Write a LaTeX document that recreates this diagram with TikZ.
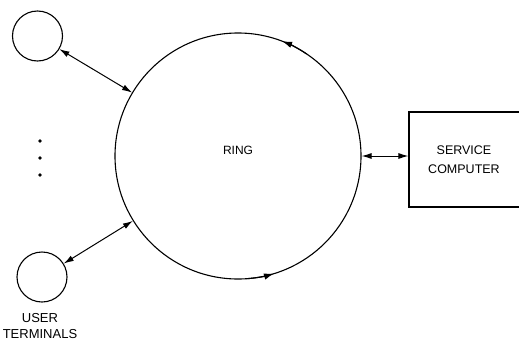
\documentclass[tikz,border=0pt]{standalone}
\usepackage{fontspec}
\setmainfont{Liberation Sans}
\usetikzlibrary{arrows.meta,calc}
\begin{document}
\begin{tikzpicture}[x=1pt,y=-1pt,line width=1.1pt,
  tip/.style={-{Latex[length=10pt,width=6.5pt]}},
  biarrow/.style={{Latex[length=10pt,width=6pt]}-{Latex[length=10pt,width=6pt]}, line width=1pt},
  term/.style={circle,draw,line width=1.1pt,minimum size=50pt,inner sep=0pt},
  lbl/.style={font=\fontsize{13}{15.5}\selectfont,align=center,inner sep=0pt}]
\clip (0,0) rectangle (519,343);
\fill[white] (0,0) rectangle (519,343);
\node[circle,draw,line width=1.1pt,minimum size=246pt,inner sep=0pt,
      font=\fontsize{12}{14}\selectfont] (ring) at (238,156) {\raisebox{0pt}[0pt][0pt]{\raisebox{2pt}{RING}}};
\node[term] (t1) at (37.5,36) {};
\node[term] (t2) at (42,277) {};
\node[draw,line width=1.1pt,minimum width=116pt,minimum height=95pt,inner sep=0pt,
      align=center,font=\fontsize{12.5}{19}\selectfont] (box) at (467,159.5)
      {\hspace*{-6pt}SERVICE\\\hspace*{-6pt}COMPUTER};
\node[lbl,anchor=north] (ut) at (40,313) {USER\\TERMINALS};
\foreach \yy [count=\i] in {141,158,175}
  \fill (40,\yy) circle (1.8pt) coordinate (d\i);
\draw[biarrow] (t1) -- (ring);
\draw[biarrow] (t2) -- (ring);
\draw[biarrow] (ring.east) -- (ring.east -| box.west);
\draw[tip] (ring.center) ++(-56:123) arc[start angle=-56,end angle=-69,radius=123];
\draw[tip] (ring.center) ++(86:123) arc[start angle=86,end angle=73,radius=123];
\end{tikzpicture}
\end{document}
